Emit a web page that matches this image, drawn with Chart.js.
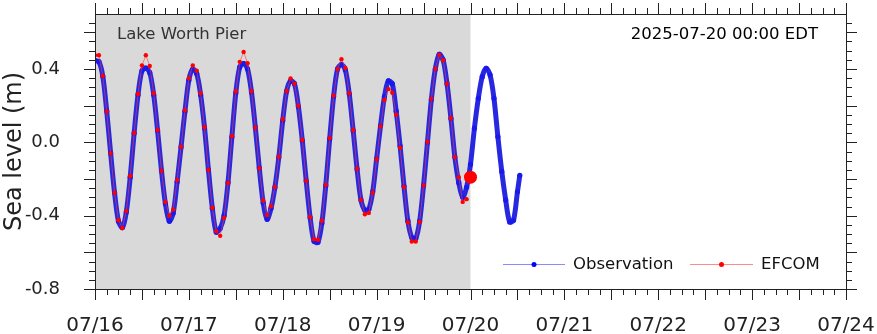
<!DOCTYPE html>
<html>
<head>
<meta charset="utf-8">
<script src="https://cdn.jsdelivr.net/npm/chart.js@4/dist/chart.umd.min.js"></script>
<style>
  body { margin: 0; background: #fff; }
  canvas { display: block; }
</style>
</head>
<body>
<canvas id="tide" width="877" height="334"></canvas>
<script>
// hours since 07/16 00:00 EDT
const dayLabels = ['07/16', '07/17', '07/18', '07/19', '07/20', '07/21', '07/22', '07/23', '07/24'];
const nowHour = 96;

// observed water level, hourly, plus last reading
const obsValues = [
  0.446, 0.44, 0.36, 0.17, -0.06, -0.275, -0.43, -0.465, -0.38, -0.19,
  0.05, 0.26, 0.39, 0.405, 0.38, 0.26, 0.065, -0.155, -0.335, -0.43,
  -0.385, -0.215, -0.025, 0.17, 0.34, 0.40, 0.375, 0.26, 0.08, -0.15,
  -0.36, -0.49, -0.47, -0.40, -0.22, 0.03, 0.27, 0.41, 0.43, 0.40,
  0.275, 0.08, -0.14, -0.33, -0.42, -0.36, -0.245, -0.08, 0.12, 0.28,
  0.335, 0.32, 0.195, 0.01, -0.21, -0.41, -0.54, -0.545, -0.44, -0.235,
  0.02, 0.25, 0.40, 0.425, 0.395, 0.265, 0.065, -0.145, -0.315, -0.37,
  -0.365, -0.27, -0.09, 0.09, 0.25, 0.335, 0.32, 0.17, -0.02, -0.24,
  -0.43, -0.52, -0.525, -0.43, -0.235, 0.0, 0.235, 0.40, 0.48, 0.45,
  0.32, 0.13, -0.08, -0.22, -0.30, -0.245, -0.12, 0.077, 0.24, 0.358,
  0.404, 0.368, 0.24, 0.03, -0.16, -0.315, -0.434, -0.425, -0.27, -0.18
];
const obsHours = obsValues.map((_, i) => i);
obsHours[obsHours.length - 1] = 108.6;

// EFCOM model, hourly up to 07/20 00:00
const efcomValues = [
  0.475, 0.475, 0.362, 0.169, -0.06, -0.275, -0.425, -0.467, -0.375, -0.184,
  0.051, 0.264, 0.419, 0.475, 0.417, 0.268, 0.067, -0.155, -0.326, -0.399,
  -0.366, -0.206, -0.024, 0.175, 0.35, 0.42, 0.391, 0.268, 0.082, -0.151,
  -0.357, -0.485, -0.51, -0.412, -0.222, 0.033, 0.277, 0.439, 0.493, 0.432,
  0.279, 0.08, -0.142, -0.317, -0.397, -0.348, -0.243, -0.079, 0.126, 0.28,
  0.348, 0.32, 0.2, 0.013, -0.21, -0.408, -0.528, -0.532, -0.428, -0.232,
  0.023, 0.255, 0.40, 0.453, 0.406, 0.268, 0.067, -0.144, -0.315, -0.392,
  -0.385, -0.275, -0.092, 0.087, 0.231, 0.29, 0.271, 0.151, -0.03, -0.244,
  -0.437, -0.541, -0.541, -0.434, -0.235, 0.003, 0.237, 0.402, 0.477, 0.448,
  0.32, 0.131, -0.08, -0.19, -0.325, -0.31
];
const nowValue = -0.19;

const FONT = '"DejaVu Sans", sans-serif';

// keep the plot box fixed: no extra room for overhanging labels
function fixBox(s) {
  s.paddingLeft = s.paddingRight = s.paddingTop = s.paddingBottom = 0;
}

const framePlugin = {
  id: 'frame',
  beforeDatasetsDraw(chart) {
    const { ctx, chartArea: a, scales: { x } } = chart;
    ctx.save();
    ctx.fillStyle = '#d9d9d9';
    const xr = x.getPixelForValue(nowHour);
    ctx.fillRect(a.left, a.top, xr - a.left, a.bottom - a.top);
    ctx.restore();
  },
  afterDraw(chart) {
    const { ctx, chartArea: a, scales: { x, y } } = chart;
    ctx.save();
    ctx.strokeStyle = '#222';
    ctx.lineWidth = 1;
    ctx.beginPath();
    // ticks every 3 h, longer every 12 h
    for (let h = 0; h <= 192; h += 3) {
      const px = Math.round(x.getPixelForValue(h)) + 0.5;
      const len = h % 12 === 0 ? 11 : 6;
      ctx.moveTo(px, a.bottom); ctx.lineTo(px, a.bottom + len);
      ctx.moveTo(px, a.top); ctx.lineTo(px, a.top - len);
    }
    // ticks every 0.05 m, longer every 0.2 m
    for (let i = -16; i <= 13; i++) {
      const py = Math.round(y.getPixelForValue(i * 0.05)) + 0.5;
      const len = i % 4 === 0 ? 11 : 6;
      ctx.moveTo(a.left, py); ctx.lineTo(a.left - len, py);
      ctx.moveTo(a.right, py); ctx.lineTo(a.right + len, py);
    }
    ctx.stroke();
    ctx.strokeRect(Math.round(a.left) + 0.5, Math.round(a.top) + 0.5,
      Math.round(a.right - a.left), Math.round(a.bottom - a.top));

    ctx.font = '16.5px ' + FONT;
    ctx.textBaseline = 'alphabetic';
    ctx.fillStyle = '#333';
    ctx.textAlign = 'left';
    ctx.fillText('Lake Worth Pier', 117, 39);
    ctx.fillStyle = '#000';
    ctx.textAlign = 'right';
    ctx.fillText('2025-07-20 00:00 EDT', 818, 39);

    // legend
    const ly = 264.5;
    const items = [
      { x0: 503, x1: 565, c: 'rgba(60,60,255,0.6)', d: '#0000ff', t: 'Observation' },
      { x0: 690, x1: 753, c: 'rgba(255,60,60,0.6)', d: '#ff0000', t: 'EFCOM' }
    ];
    ctx.textAlign = 'left';
    ctx.textBaseline = 'middle';
    items.forEach(it => {
      ctx.strokeStyle = it.c;
      ctx.beginPath(); ctx.moveTo(it.x0, ly); ctx.lineTo(it.x1, ly); ctx.stroke();
      ctx.fillStyle = it.d;
      ctx.beginPath(); ctx.arc((it.x0 + it.x1) / 2, ly, 2.5, 0, Math.PI * 2); ctx.fill();
      ctx.fillStyle = '#111';
      ctx.fillText(it.t, it.x1 + 8, ly);
    });
    ctx.restore();
  }
};

new Chart(document.getElementById('tide'), {
  type: 'line',
  data: {
    datasets: [
      {
        label: 'Now',
        data: [{ x: nowHour, y: nowValue }],
        showLine: false,
        pointRadius: 6.5,
        pointBackgroundColor: '#ff0000',
        pointBorderWidth: 0,
        order: 0
      },
      {
        label: 'EFCOM',
        data: efcomValues.map((v, i) => ({ x: i, y: v })),
        borderColor: 'rgba(255,60,60,0.6)',
        borderWidth: 1,
        pointRadius: 2.2,
        pointBackgroundColor: '#ff0000',
        pointBorderWidth: 0,
        tension: 0,
        order: 1
      },
      {
        label: 'Observation',
        data: obsValues.map((v, i) => ({ x: obsHours[i], y: v })),
        borderColor: 'rgb(40,40,225)',
        borderWidth: 5,
        pointRadius: 2.6,
        pointBackgroundColor: 'rgb(25,25,235)',
        pointBorderWidth: 0,
        tension: 0.3,
        order: 2
      }
    ]
  },
  options: {
    responsive: false,
    animation: false,
    devicePixelRatio: 1,
    layout: { padding: { top: 14, right: 31, left: 0, bottom: 0 } },
    plugins: { legend: { display: false }, tooltip: { enabled: false } },
    scales: {
      x: {
        type: 'linear',
        min: 0,
        max: 192,
        grid: { display: false },
        border: { display: false },
        ticks: {
          stepSize: 24,
          padding: 16.5,
          maxRotation: 0,
          autoSkip: false,
          color: '#222',
          font: { family: FONT, size: 20 },
          callback: v => dayLabels[Math.round(v / 24)]
        },
        afterFit: s => { s.height = 45; fixBox(s); }
      },
      y: {
        min: -0.8,
        max: 0.7,
        grid: { display: false },
        border: { display: false },
        ticks: {
          stepSize: 0.4,
          includeBounds: false,
          padding: 27,
          color: '#222',
          font: { family: FONT, size: 18 },
          callback: v => v.toFixed(1)
        },
        title: {
          display: true,
          text: 'Sea level (m)',
          color: '#222',
          font: { family: FONT, size: 24 },
          padding: 0
        },
        afterFit: s => { s.width = 95; fixBox(s); }
      }
    }
  },
  plugins: [framePlugin]
});
</script>
</body>
</html>
